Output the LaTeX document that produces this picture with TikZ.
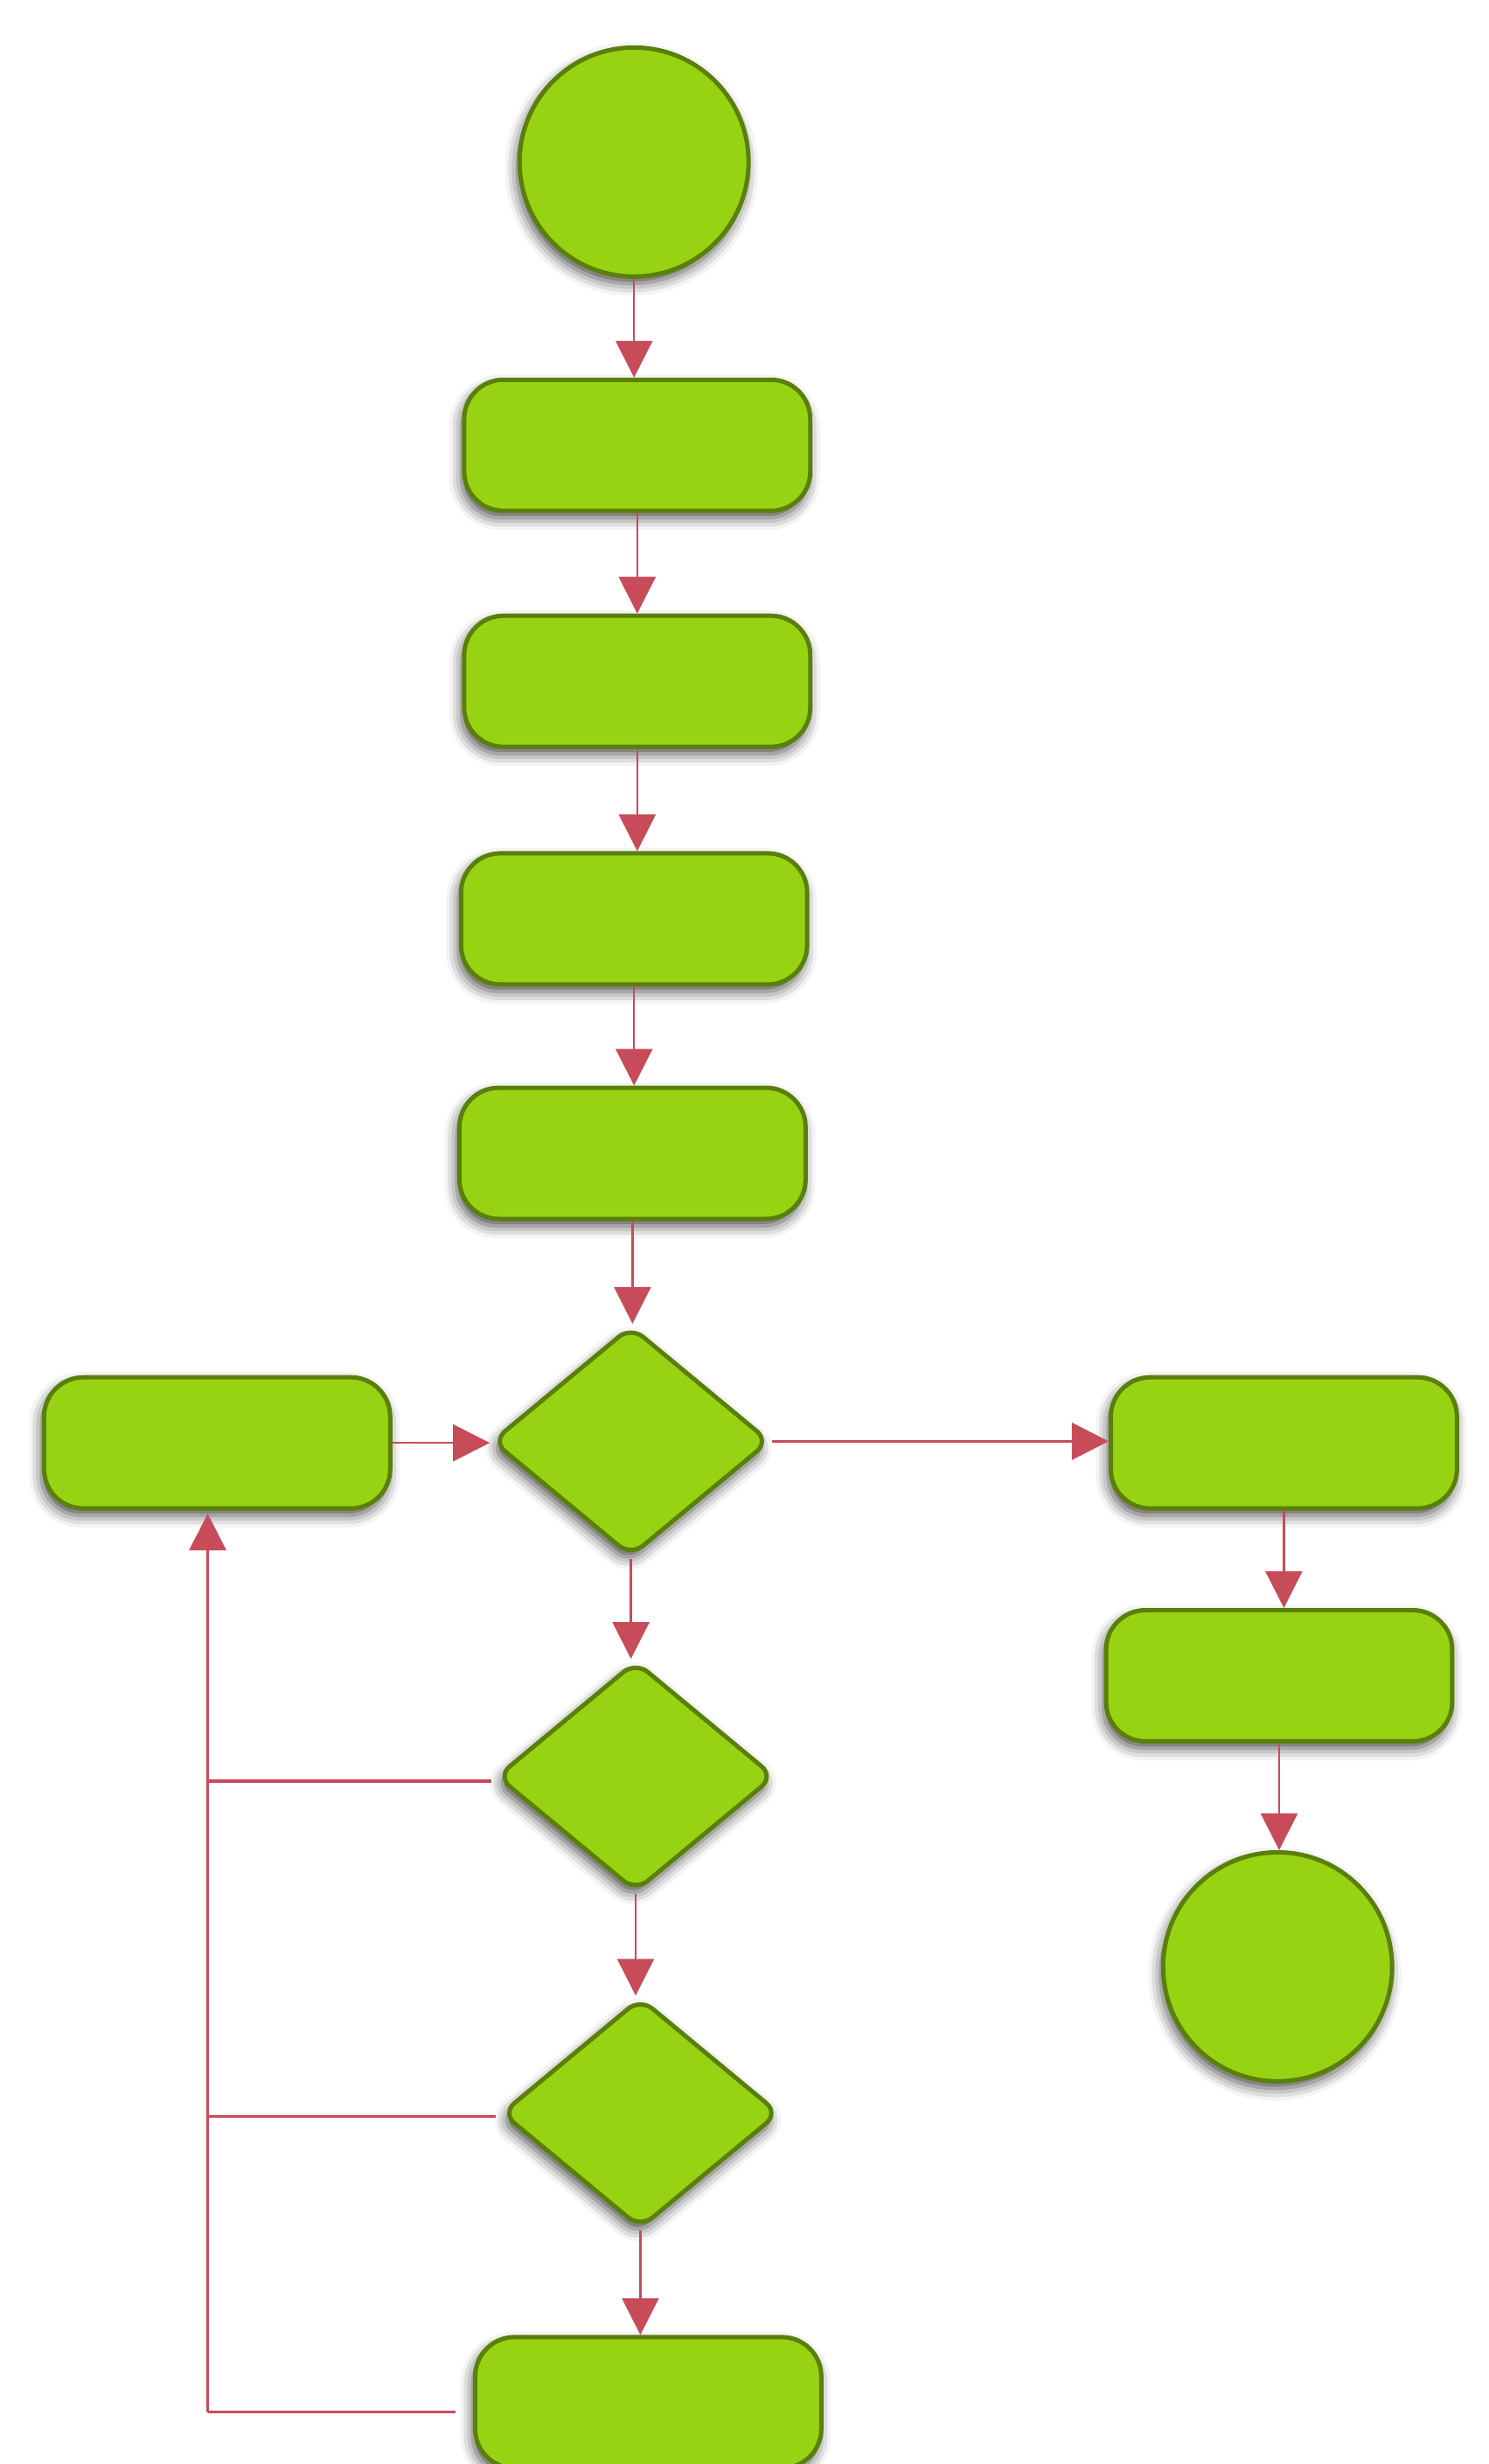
\documentclass[tikz,border=0pt]{standalone}
\usetikzlibrary{shapes.geometric,arrows.meta,shadows.blur}
\definecolor{gfill}{HTML}{97D312}
\definecolor{gdraw}{HTML}{5A7F0A}
\definecolor{arr}{HTML}{C84B5A}
\begin{document}
\begin{tikzpicture}[x=1.8pt,y=-1.8pt,
  base/.style={fill=gfill,draw=gdraw,line width=5pt,inner sep=0pt,
    blur shadow={shadow xshift=-3pt,shadow yshift=-8pt,shadow blur radius=14pt,shadow opacity=70}},
  box/.style={base,rectangle,rounded corners=45pt,minimum width=396pt,minimum height=150pt},
  circ/.style={base,circle,minimum size=262pt},
  dia/.style={base,diamond,rounded corners=18pt,minimum width=318pt,minimum height=264pt},
  ar/.style={draw=arr,line width=2.5pt,-{Triangle[length=42pt,width=42pt]}},
  ln/.style={draw=arr,line width=3.5pt}]
\useasboundingbox (0,0) rectangle (946,1566);
\node[circ] (s) at (403,103) {};
\node[box] (b1) at (405,283) {};
\node[box] (b2) at (405,433) {};
\node[box] (b3) at (403,584) {};
\node[box] (b4) at (402,733) {};
\node[dia] (d1) at (401,916) {};
\node[box] (lb) at (138,917) {};
\node[box] (r1) at (816,917) {};
\node[box] (r2) at (813,1065) {};
\node[circ] (e) at (812,1250) {};
\node[dia] (d2) at (404,1129) {};
\node[dia] (d3) at (407,1343) {};
\node[box] (bt) at (412,1527) {};
\coordinate (c1) at (132,1132);
\coordinate (c2) at (132,1345);
\coordinate (c3) at (132,1533);
\coordinate (top) at (132,962);
\draw[ar] (s.south) -- (s.south |- b1.north);
\draw[ar] (b1.south) -- (b1.south |- b2.north);
\draw[ar] (b2.south) -- (b2.south |- b3.north);
\draw[ar] (b3.south) -- (b3.south |- b4.north);
\draw[ar] (b4.south) -- (b4.south |- d1.north);
\draw[ar] (lb.east) -- (d1.west |- lb.east);
\draw[ar,line width=3.5pt] (d1.east) -- (r1.west |- d1.east);
\draw[ar] (r1.south) -- (r1.south |- r2.north);
\draw[ar] (r2.south) -- (r2.south |- e.north);
\draw[ar] (d1.south) -- (d1.south |- d2.north);
\draw[ar] (d2.south) -- (d2.south |- d3.north);
\draw[ar] (d3.south) -- (d3.south |- bt.north);
\draw[ln] ([xshift=-4pt]d2.west |- c1) -- (c1);
\draw[ln] ([xshift=-4pt]d3.west |- c2) -- (c2);
\draw[ln] ([xshift=-20pt]bt.west |- c3) -- (c3);
\draw[ar,line width=3.5pt] (c3) -- (top);
\end{tikzpicture}
\end{document}
